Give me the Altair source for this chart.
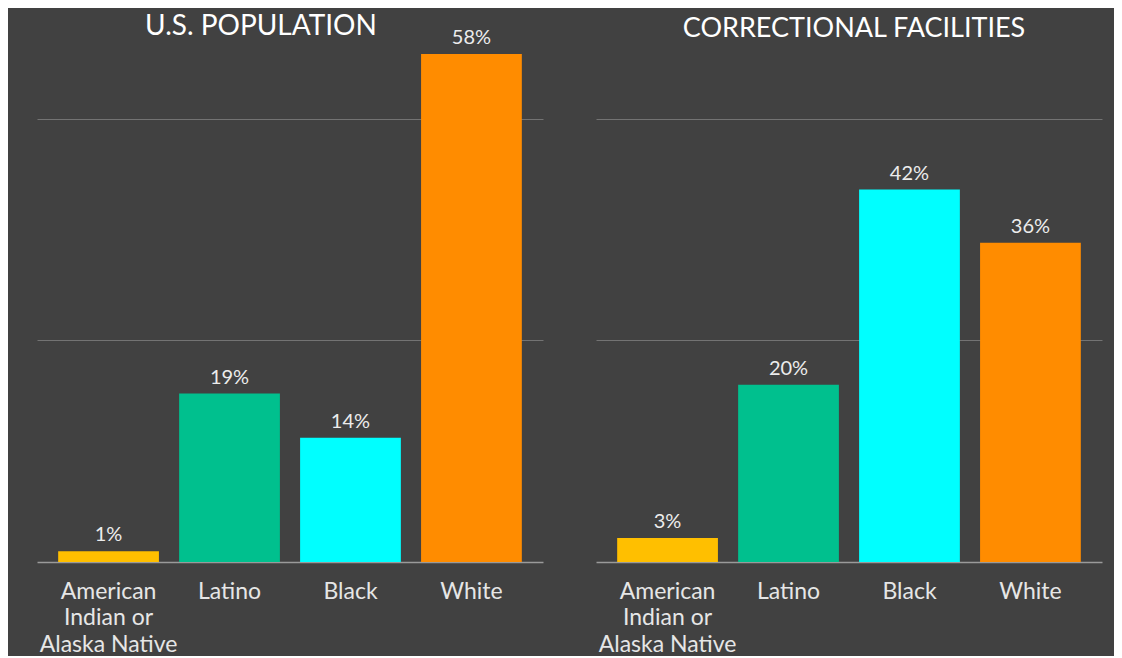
import altair as alt
import pandas as pd

categories = ["American Indian or Alaska Native", "Latino", "Black", "White"]
colors = ["#FFBF00", "#00C08E", "#00FFFF", "#FF8C00"]

pop_values = [1.2, 19, 14, 57.3]
pop_labels = ["1%", "19%", "14%", "58%"]

cor_values = [2.7, 20, 42, 36]
cor_labels = ["3%", "20%", "42%", "36%"]

FONT = "Lato"


def panel(title, values, labels, dx, fs):
    df = pd.DataFrame({"cat": categories, "value": values, "label": labels})
    base = alt.Chart(df)
    x = alt.X(
        "cat:N",
        sort=categories,
        scale=alt.Scale(paddingInner=0.167, paddingOuter=0.175),
        axis=alt.Axis(
            title=None,
            labelAngle=0,
            ticks=False,
            domainColor="#9a9a9a",
            domainWidth=1.5,
            labelColor="#e6e6e6",
            labelFont=FONT,
            labelFontSize=23,
            labelPadding=18,
            labelLineHeight=26.5,
            labelLimit=300,
            labelExpr="datum.label == 'American Indian or Alaska Native' ? ['American', 'Indian or', 'Alaska Native'] : datum.label",
        ),
    )
    y = alt.Y(
        "value:Q",
        scale=alt.Scale(domain=[0, 60], nice=False),
        axis=alt.Axis(
            title=None,
            values=[25, 50],
            labels=False,
            ticks=False,
            domain=False,
            grid=True,
            gridColor="#737373",
            gridWidth=1,
        ),
    )
    bars = base.mark_bar().encode(
        x=x,
        y=y,
        color=alt.Color("cat:N", scale=alt.Scale(domain=categories, range=colors), legend=None),
    )
    text = base.mark_text(
        baseline="bottom", dy=-6, font=FONT, fontSize=20, color="#ececec"
    ).encode(x=x, y=y, text="label:N")
    return alt.layer(bars, text).properties(
        width=506,
        height=532,
        title=alt.TitleParams(
            text=title,
            font=FONT,
            fontSize=fs,
            fontWeight="normal",
            color="#ffffff",
            anchor="middle",
            frame="group",
            dx=dx,
            offset=-13,
        ),
    )


left = panel("U.S. POPULATION", pop_values, pop_labels, -29, 28)
right = panel("CORRECTIONAL FACILITIES", cor_values, cor_labels, 5, 27)

chart = (
    alt.hconcat(left, right, spacing=53, bounds="flush")
    .properties(
        background="#414141",
        padding={"left": 29, "top": 4, "right": 12, "bottom": 0},
    )
    .configure_view(strokeWidth=0)
)

chart.save("out.html", embed_options={"renderer": "svg", "actions": False})
